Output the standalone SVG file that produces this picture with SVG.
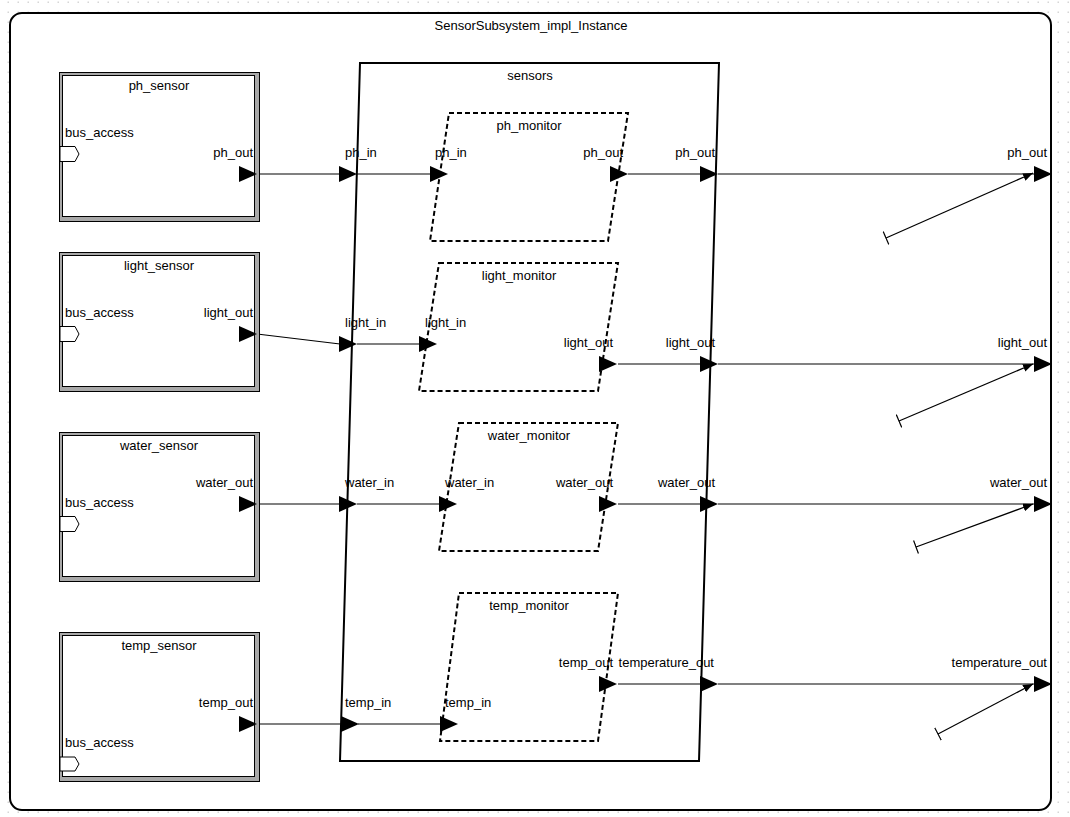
<svg xmlns="http://www.w3.org/2000/svg" xmlns:xlink="http://www.w3.org/1999/xlink" width="1070" height="817" viewBox="0 0 1070 817">
<style>
text{font-family:"Liberation Sans",Arial,sans-serif;font-size:13px;fill:#000}
.mid{text-anchor:middle}
.end{text-anchor:end}
.bevel{fill:#a8a8a8;stroke:#000;stroke-width:1}
.inner{fill:#fff;stroke:#000;stroke-width:1}
.sub{fill:none;stroke:#000;stroke-width:2}
.mon{fill:none;stroke:#000;stroke-width:2;stroke-dasharray:5,3}
.conn{stroke:#808080;stroke-width:2;fill:none}
.thin{stroke:#000;stroke-width:1.2;fill:none}
.flow{stroke:#000;stroke-width:1.2;fill:none;marker-start:url(#bar);marker-end:url(#ah)}
.bus{fill:#fff;stroke:#000;stroke-width:1}
</style>
<defs>
<pattern id="grid" width="10" height="10" patternUnits="userSpaceOnUse">
<rect x="7.5" y="1.5" width="1.5" height="1.5" fill="#d6d6d6"/>
</pattern>
<path id="tri" d="M0,-8 L18,0 L0,8 Z" fill="#000"/>
<marker id="ah" viewBox="0 0 10 8" refX="10" refY="4" markerWidth="10" markerHeight="8" markerUnits="userSpaceOnUse" orient="auto">
<path d="M0,0 L10,4 L0,8 Z" fill="#000"/>
</marker>
<marker id="bar" viewBox="0 0 2 14" refX="1" refY="7" markerWidth="2" markerHeight="14" markerUnits="userSpaceOnUse" orient="auto">
<line x1="1" y1="0" x2="1" y2="14" stroke="#000" stroke-width="1.2"/>
</marker>
</defs>
<rect x="0" y="0" width="1070" height="817" fill="#fff"/>
<rect x="0" y="0" width="1070" height="817" fill="url(#grid)"/>
<g id="SensorSubsystem_impl_Instance">
<rect x="10" y="13" width="1041" height="797" rx="12" ry="12" fill="#fff" stroke="#000" stroke-width="2"/>
<text class="mid" x="531" y="30">SensorSubsystem_impl_Instance</text>
</g>
<g id="connectors">
<line class="conn" x1="257" y1="174" x2="340" y2="174"/>
<line class="conn" x1="357" y1="174" x2="430" y2="174"/>
<line class="conn" x1="628" y1="174" x2="700" y2="174"/>
<line class="conn" x1="718" y1="174" x2="1034" y2="174"/>
<line class="thin" x1="257" y1="334" x2="340" y2="344"/>
<line class="conn" x1="357" y1="344" x2="419" y2="344"/>
<line class="conn" x1="618" y1="364" x2="700" y2="364"/>
<line class="conn" x1="718" y1="364" x2="1034" y2="364"/>
<line class="conn" x1="257" y1="504" x2="340" y2="504"/>
<line class="conn" x1="357" y1="504" x2="439" y2="504"/>
<line class="conn" x1="618" y1="504" x2="700" y2="504"/>
<line class="conn" x1="718" y1="504" x2="1034" y2="504"/>
<line class="conn" x1="257" y1="724" x2="341" y2="724"/>
<line class="conn" x1="358" y1="724" x2="440" y2="724"/>
<line class="conn" x1="618" y1="684" x2="700" y2="684"/>
<line class="conn" x1="718" y1="684" x2="1034" y2="684"/>
<line class="flow" x1="886" y1="238" x2="1033" y2="173"/>
<line class="flow" x1="899" y1="421" x2="1033" y2="364"/>
<line class="flow" x1="916" y1="547" x2="1033" y2="504"/>
<line class="flow" x1="938" y1="734" x2="1033" y2="684"/>
</g>
<g id="ph_sensor">
<rect class="bevel" x="59.5" y="72.5" width="200" height="149"/>
<rect class="inner" x="62.5" y="75.5" width="192" height="141"/>
<text class="mid" x="159" y="90">ph_sensor</text>
<text x="65" y="137">bus_access</text>
<path class="bus" d="M60,146.5 L75,146.5 L79,154 L75,161.5 L60,161.5 Z"/>
<text class="end" x="253" y="157">ph_out</text>
<use xlink:href="#tri" x="239" y="174"/>
</g>
<g id="light_sensor">
<rect class="bevel" x="59.5" y="252.5" width="200" height="139"/>
<rect class="inner" x="62.5" y="255.5" width="192" height="131"/>
<text class="mid" x="159" y="270">light_sensor</text>
<text x="65" y="317">bus_access</text>
<path class="bus" d="M60,326.5 L75,326.5 L79,334 L75,341.5 L60,341.5 Z"/>
<text class="end" x="253" y="317">light_out</text>
<use xlink:href="#tri" x="239" y="334"/>
</g>
<g id="water_sensor">
<rect class="bevel" x="59.5" y="432.5" width="200" height="149"/>
<rect class="inner" x="62.5" y="435.5" width="192" height="141"/>
<text class="mid" x="159" y="450">water_sensor</text>
<text x="65" y="507">bus_access</text>
<path class="bus" d="M60,516.5 L75,516.5 L79,524 L75,531.5 L60,531.5 Z"/>
<text class="end" x="253" y="487">water_out</text>
<use xlink:href="#tri" x="239" y="504"/>
</g>
<g id="temp_sensor">
<rect class="bevel" x="59.5" y="632.5" width="200" height="149"/>
<rect class="inner" x="62.5" y="635.5" width="192" height="141"/>
<text class="mid" x="159" y="650">temp_sensor</text>
<text x="65" y="747">bus_access</text>
<path class="bus" d="M60,757 L75,757 L79,764 L75,771 L60,771 Z"/>
<text class="end" x="253" y="707">temp_out</text>
<use xlink:href="#tri" x="239" y="724"/>
</g>
<g id="sensors">
<polygon class="sub" points="360,63 719,63 699,761 340,761"/>
<text class="mid" x="530" y="80">sensors</text>
<text x="345" y="157">ph_in</text>
<use xlink:href="#tri" x="339" y="174"/>
<text x="345" y="327">light_in</text>
<use xlink:href="#tri" x="339" y="344"/>
<text x="345" y="487">water_in</text>
<use xlink:href="#tri" x="339" y="504"/>
<text x="345" y="707">temp_in</text>
<use xlink:href="#tri" x="341" y="724"/>
<text class="end" x="715" y="157">ph_out</text>
<use xlink:href="#tri" x="700" y="174"/>
<text class="end" x="715" y="347">light_out</text>
<use xlink:href="#tri" x="700" y="364"/>
<text class="end" x="715" y="487">water_out</text>
<use xlink:href="#tri" x="700" y="504"/>
<text class="end" x="714" y="667">temperature_out</text>
<use xlink:href="#tri" x="700" y="684"/>
</g>
<g id="ph_monitor">
<polygon class="mon" points="449,113 628,113 608,241 430,241"/>
<text class="mid" x="529" y="130">ph_monitor</text>
<text x="435" y="157">ph_in</text>
<use xlink:href="#tri" x="430" y="174"/>
<text class="end" x="623" y="157">ph_out</text>
<use xlink:href="#tri" x="610" y="174"/>
</g>
<g id="light_monitor">
<polygon class="mon" points="439,263 618,263 598,391 419,391"/>
<text class="mid" x="519" y="280">light_monitor</text>
<text x="425" y="327">light_in</text>
<use xlink:href="#tri" x="419" y="344"/>
<text class="end" x="613" y="347">light_out</text>
<use xlink:href="#tri" x="599" y="364"/>
</g>
<g id="water_monitor">
<polygon class="mon" points="459,423 618,423 598,551 439,551"/>
<text class="mid" x="529" y="440">water_monitor</text>
<text x="445" y="487">water_in</text>
<use xlink:href="#tri" x="439" y="504"/>
<text class="end" x="613" y="487">water_out</text>
<use xlink:href="#tri" x="599" y="504"/>
</g>
<g id="temp_monitor">
<polygon class="mon" points="459,593 618,593 598,741 440,741"/>
<text class="mid" x="529" y="610">temp_monitor</text>
<text x="445" y="707">temp_in</text>
<use xlink:href="#tri" x="440" y="724"/>
<text class="end" x="613" y="667">temp_out</text>
<use xlink:href="#tri" x="599" y="684"/>
</g>
<g id="outer_ports">
<text class="end" x="1047" y="157">ph_out</text>
<use xlink:href="#tri" x="1034" y="174"/>
<text class="end" x="1047" y="347">light_out</text>
<use xlink:href="#tri" x="1034" y="364"/>
<text class="end" x="1047" y="487">water_out</text>
<use xlink:href="#tri" x="1034" y="504"/>
<text class="end" x="1047" y="667">temperature_out</text>
<use xlink:href="#tri" x="1034" y="684"/>
</g>
</svg>
